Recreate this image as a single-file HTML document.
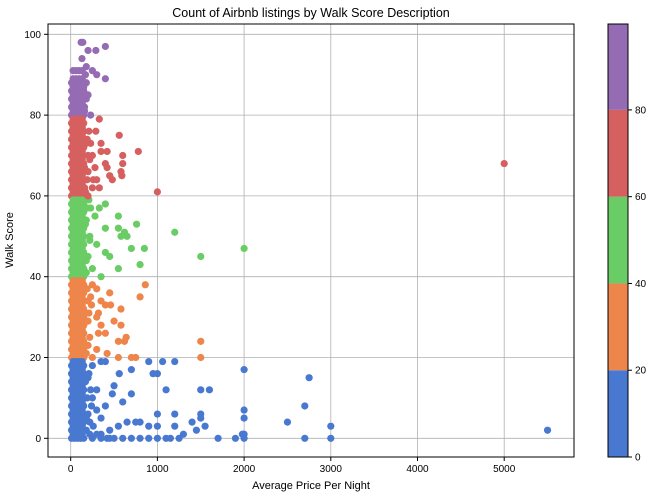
<!DOCTYPE html>
<html><head><meta charset="utf-8"><style>
body{margin:0;background:#fff}
svg text{font-family:"Liberation Sans",sans-serif;fill:#000}
</style></head><body>
<svg id="c" width="655" height="496" viewBox="0 0 655 496" xmlns="http://www.w3.org/2000/svg">
<text x="311" y="17" font-size="12.5" text-anchor="middle">Count of Airbnb listings by Walk Score Description</text>
<g id="grid"></g>
<g id="pts"></g>
<rect x="48" y="24" width="526" height="433" fill="none" stroke="#000" stroke-width="1"/>
<g id="ticks"></g>
<text x="311" y="489" font-size="11" text-anchor="middle">Average Price Per Night</text>
<text x="13" y="240" font-size="11" text-anchor="middle" transform="rotate(-90 13 240)">Walk Score</text>
<g id="cbar"></g>
</svg>
<script>
const xTicks=[0,1000,2000,3000,4000,5000];
const yTicks=[0,20,40,60,80,100];
const cbTicks=[0,20,40,60,80];
const bandColors=["#4878d0","#ee854a","#6acc64","#d65f5f","#956cb4"];
// dense core listings (cheap listings at every walk score)
const corePricesA=[10,45,80,115,150];
const coreScoresA=[0,2,4,6,8,10,12,14,16,18,20,22,24,26,28,30,32,34,36,38,40,42,44,46,48,50,52,54,56,58,60,62,64,66,68,70,72,74,76,78,80,82,84,86,88];
const corePricesB=[28,63,98,133];
const coreScoresB=[1,3,5,7,9,11,13,15,17,19,21,23,25,27,29,31,33,35,37,39,41,43,45,47,49,51,53,55,57,59,61,63,65,67,69,71,73,75,77,79,81,83,85,87,89,91];
// individual listings
const purplePrices=[120,140,200,290,400,180,250,300,400,150,200,230,160,180,130,160,180,150,170];
const purpleScores=[98,98,96,96,97,92,91,90,89,84,85,80,82,88,94,81,84,87,90];
const redPrices=[330,290,190,230,350,420,250,350,560,600,600,580,590,780,1000,5000,280,400,420,200,300,260,480,160,250,330,220,450,200,170,190,160,200,180,210];
const redScores=[79,76,74,73,73,71,70,71,75,70,68,66,65,71,61,68,67,68,67,66,64,64,64,62,62,62,69,65,60,61,64,67,70,73,76];
const greenPrices=[160,230,330,280,180,400,550,760,550,400,620,580,1200,650,850,2000,1500,800,300,400,450,550,250,350,220,180,700,180,200,220,170,190,210];
const greenScores=[57,57,57,55,54,58,55,53,52,52,51,50,51,50,47,47,45,43,48,46,45,42,42,40,50,44,47,41,45,49,53,57,59];
const orangePrices=[250,860,800,450,300,350,460,400,580,320,580,500,300,320,400,640,620,550,1500,1500,300,420,550,700,750,250,200,350,150,200,180,220,200,240,190,170,210,230];
const orangeScores=[38,38,35,36,37,34,33,33,32,31,28,29,30,26,26,25,24,24,24,20,22,21,20,20,20,20,23,28,28,34,21,25,29,33,37,23,31,35];
const bluePrices=[900,1060,1200,560,350,400,700,950,1000,2000,
1100,1500,1600,2750,2700,2000,2000,1500,1000,1200,
1500,480,300,500,700,600,400,800,1000,1200,
1400,1300,1150,1000,900,800,700,600,1700,1900,
2000,1980,2000,2500,2700,3000,3000,5500,1550,1450,
1250,1100,900,750,650,550,450,350,300,250,
200,180,260,350,500,420,300,250,350,450,
180,220,200,240,190,230,170,210,250,220];
const blueScores=[19,19,19,16,19,19,17,16,16,17,
12,12,12,15,8,7,5,6,6,6,
5,11,12,13,11,9,8,4,3,3,
4,1,0,0,0,0,0,0,0,0,
0,1,1,4,0,3,0,2,3,2,
0,0,3,4,4,3,2,5,7,10,
15,5,3,1,0,0,1,0,0,0,
2,4,6,8,10,12,14,16,18,1];

const NS="http://www.w3.org/2000/svg";
const L=48,R=574,T=24,B=457;
function xs(v){return 70.7+v*0.0867;}
function ys(v){return 438.3-v*4.04;}
function colorFor(v){return bandColors[Math.min(4,Math.floor(v/20))];}
function mk(tag,attrs,parent){const e=document.createElementNS(NS,tag);for(const k in attrs)e.setAttribute(k,attrs[k]);parent.appendChild(e);return e;}
const grid=document.getElementById('grid'),ticks=document.getElementById('ticks'),pts=document.getElementById('pts'),cb=document.getElementById('cbar');
xTicks.forEach(t=>{
  const x=xs(t);
  const g=mk('line',{x1:x,x2:x,y1:T,y2:B,stroke:'#b0b0b0','stroke-width':0.8},grid);
  
  
  mk('line',{x1:x,x2:x,y1:B,y2:B+4,stroke:'#000'},ticks);
  const tx=mk('text',{x:x,y:B+15,'font-size':10,'text-anchor':'middle'},ticks);
  tx.textContent=t;
  
  
});
yTicks.forEach(t=>{
  const y=ys(t);
  const g=mk('line',{x1:L,x2:R,y1:y,y2:y,stroke:'#b0b0b0','stroke-width':0.8},grid);
  
  
  mk('line',{x1:L-4,x2:L,y1:y,y2:y,stroke:'#000'},ticks);
  const tx=mk('text',{x:L-7,y:y+3.5,'font-size':10,'text-anchor':'end'},ticks);
  tx.textContent=t;
  
  
});
function dot(p,w){
  const c=mk('circle',{cx:xs(p),cy:ys(w),r:3.6,fill:colorFor(w)},pts);
  
  
}
corePricesA.forEach(p=>coreScoresA.forEach(w=>dot(p,w)));
corePricesB.forEach(p=>coreScoresB.forEach(w=>dot(p,w)));
[[bluePrices,blueScores],[orangePrices,orangeScores],[greenPrices,greenScores],[redPrices,redScores],[purplePrices,purpleScores]].forEach(([P,W])=>{
  for(let i=0;i<Math.min(P.length,W.length);i++)dot(P[i],W[i]);
});
const cbL=608,cbW=20,cbMax=99.8;
function cy(v){return B-(v/cbMax)*(B-T);}
bandColors.forEach((col,i)=>{
  const y1=cy(i*20),y2=i==4?T:cy((i+1)*20);
  const r=mk('rect',{x:cbL,y:y2,width:cbW,height:y1-y2,fill:col},cb);
  
  
});
mk('rect',{x:cbL,y:T,width:cbW,height:B-T,fill:'none',stroke:'#000'},cb);
cbTicks.forEach(t=>{
  const y=cy(t);
  mk('line',{x1:cbL+cbW,x2:cbL+cbW+4,y1:y,y2:y,stroke:'#000'},cb);
  const tx=mk('text',{x:cbL+cbW+7,y:y+3.5,'font-size':10},cb);
  tx.textContent=t;
  
  
});
</script>
</body></html>
